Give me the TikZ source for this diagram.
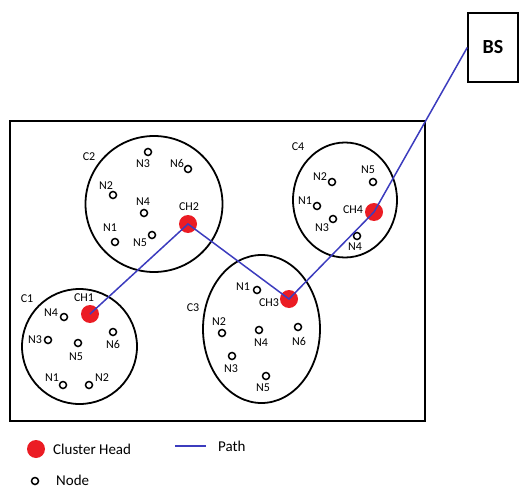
\documentclass[tikz,border=0pt]{standalone}
\usepackage{fontspec}
\setmainfont{Carlito}
\usetikzlibrary{shapes.geometric}
\definecolor{headred}{RGB}{235,28,36}
\definecolor{pathblue}{RGB}{60,60,190}
\tikzset{
	cluster/.style={draw, ellipse, line width=1.8pt, inner sep=0pt},
	member/.style={draw, circle, line width=1.5pt, minimum size=7pt, inner sep=0pt},
	head/.style={circle, fill=headred, minimum size=18pt, inner sep=0pt},
	lbl/.style={font=\fontsize{12}{13}\selectfont, inner sep=0pt},
	leg/.style={font=\fontsize{15}{16}\selectfont, inner sep=0pt, anchor=west},
	route/.style={pathblue, line width=1.5pt}
}
\begin{document}
\begin{tikzpicture}[x=1pt,y=-1pt]
	\useasboundingbox (0,0) rectangle (519,489);
	% field
	\draw [line width=2.4pt] (10,121) rectangle (425,421);
	% base station
	\node [draw, line width=1.5pt, minimum width=50pt, minimum height=69pt, inner sep=0pt, font=\fontsize{20}{22}\selectfont\bfseries] (bs) at (493,47.5) {BS};
	% clusters
	\node [cluster, minimum width=115pt, minimum height=115pt] (c1) at (79.5,346.5) {};
	\node [cluster, minimum width=137pt, minimum height=136pt] (c2) at (154,204) {};
	\node [cluster, minimum width=117pt, minimum height=148pt] (c3) at (261.5,329) {};
	\node [cluster, minimum width=104pt, minimum height=115pt] (c4) at (345,200) {};
	\node [lbl] (c1l) at (27,299) {C1};
	\node [lbl] (c2l) at (89,157) {C2};
	\node [lbl] (c3l) at (193,308) {C3};
	\node [lbl] (c4l) at (298,147) {C4};
	% cluster heads
	\node [head] (ch1) at (90,314) {};
	\node [head] (ch2) at (188,224) {};
	\node [head] (ch3) at (289,299) {};
	\node [head] (ch4) at (374,212) {};
	\node [lbl] (ch1l) at (84,298) {CH1};
	\node [lbl] (ch2l) at (189,207) {CH2};
	\node [lbl] (ch3l) at (269,303) {CH3};
	\node [lbl] (ch4l) at (353,210) {CH4};
	% C1 members
	\node [member] (c1n1) at (63,385) {};\node [lbl] at (52,378) {N1};
	\node [member] (c1n2) at (89,385) {};\node [lbl] at (102,378) {N2};
	\node [member] (c1n3) at (48,340) {};\node [lbl] at (35,340) {N3};
	\node [member] (c1n4) at (64,317) {};\node [lbl] at (51,313) {N4};
	\node [member] (c1n5) at (78,343) {};\node [lbl] at (76,357) {N5};
	\node [member] (c1n6) at (113,332) {};\node [lbl] at (113,344) {N6};
	% C2 members
	\node [member] (c2n1) at (115,242) {};\node [lbl] at (110,228) {N1};
	\node [member] (c2n2) at (113,195) {};\node [lbl] at (106,186) {N2};
	\node [member] (c2n3) at (148,152) {};\node [lbl] at (143,164) {N3};
	\node [member] (c2n4) at (144,213) {};\node [lbl] at (143,202) {N4};
	\node [member] (c2n5) at (152,235) {};\node [lbl] at (140,243) {N5};
	\node [member] (c2n6) at (188,169) {};\node [lbl] at (177,163) {N6};
	% C3 members
	\node [member] (c3n1) at (257,290) {};\node [lbl] at (243,287) {N1};
	\node [member] (c3n2) at (222,333) {};\node [lbl] at (219,322) {N2};
	\node [member] (c3n3) at (232,356) {};\node [lbl] at (231,369) {N3};
	\node [member] (c3n4) at (259,330) {};\node [lbl] at (261,343) {N4};
	\node [member] (c3n5) at (266,376) {};\node [lbl] at (263,388) {N5};
	\node [member] (c3n6) at (298,327) {};\node [lbl] at (299,341) {N6};
	% C4 members
	\node [member] (c4n1) at (317,206) {};\node [lbl] at (305,201) {N1};
	\node [member] (c4n2) at (332,182) {};\node [lbl] at (320,177) {N2};
	\node [member] (c4n3) at (333,219) {};\node [lbl] at (322,228) {N3};
	\node [member] (c4n4) at (357,236) {};\node [lbl] at (355,247) {N4};
	\node [member] (c4n5) at (373,182) {};\node [lbl] at (368,170) {N5};
	% path
	\draw [route] (ch1.center) -- (ch2.center) -- (ch3.center) -- (ch4.center) -- (bs.west);
	% legend
	\node [head] (leghead) at (36,449) {};
	\node [leg] (leghl) at (53,449) {Cluster Head};
	\coordinate (pathl) at (175,446);
	\coordinate (pathr) at (206,446);
	\draw [route] (pathl) -- (pathr);
	\node [leg] (legpl) at (218,446) {Path};
	\node [member] (legnode) at (35,481) {};
	\node [leg] (legnl) at (56,480) {Node};
\end{tikzpicture}
\end{document}
